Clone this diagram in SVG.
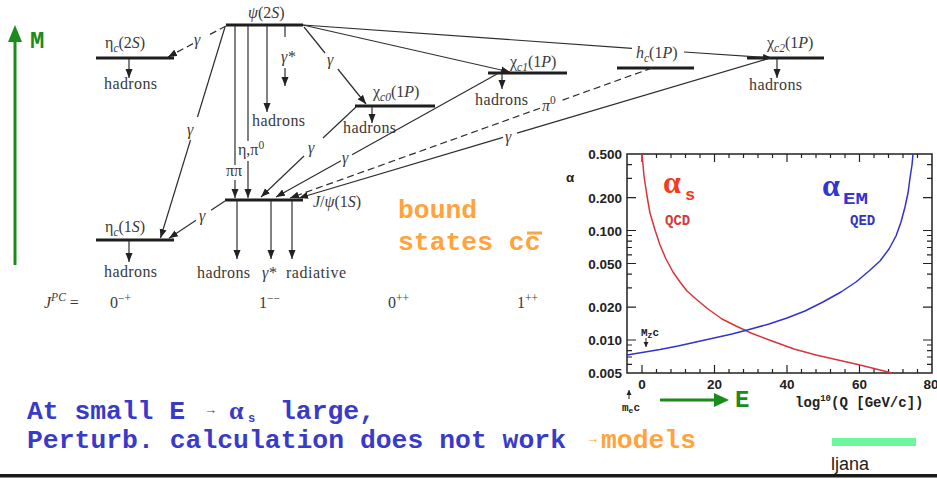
<svg xmlns="http://www.w3.org/2000/svg" width="937" height="479" viewBox="0 0 937 479">
<style>
.lvl{stroke:#1e1e1e;stroke-width:3;fill:none}
.ln{stroke:#2e2e2e;stroke-width:1.2;fill:none}
.arr{marker-end:url(#ah)}
.dash{stroke-dasharray:7 4}
.t{font-family:"Liberation Serif","Times New Roman",serif;font-size:16px;fill:#3a3a3a}
.it{font-style:italic}
.sb{font-size:11.5px}
.mono{font-family:"Courier New","Liberation Mono",monospace;font-weight:bold}
.ax{stroke:#222;stroke-width:1.5;fill:none}
.tk{stroke:#222;stroke-width:1.2;fill:none}
.tl{font-family:"Liberation Sans",Arial,sans-serif;font-weight:bold;font-size:13.5px;fill:#222}
.blue{fill:#3a3ac8}
.orange{fill:#ffa43c}
.green{fill:#1a8c1a}
</style>
<defs>
<marker id="ah" markerUnits="userSpaceOnUse" markerWidth="10" markerHeight="8" refX="9" refY="4" orient="auto"><path d="M0,0.5 L9,4 L0,7.5 z" fill="#222"/></marker>
<marker id="sa" markerUnits="userSpaceOnUse" markerWidth="6" markerHeight="6" refX="5" refY="3" orient="auto"><path d="M0,0.5 L5,3 L0,5.5 z" fill="#222"/></marker>
</defs>
<rect x="0" y="0" width="937" height="479" fill="#fff"/>

<!-- Mass axis -->
<g id="mass-axis">
<line x1="15" y1="265" x2="15" y2="40" stroke="#1a8c1a" stroke-width="3"/>
<polygon points="8,42 15,25 22,42" fill="#1a8c1a"/>
<text x="30" y="48" class="mono green" font-size="24">M</text>
</g>

<!-- Levels -->
<g id="psi2S">
<line class="lvl" x1="226" y1="25" x2="303" y2="25"/>
<text x="248" y="18" class="t"><tspan class="it">ψ</tspan>(2<tspan class="it">S</tspan>)</text>
</g>
<g id="etac2S">
<line class="lvl" x1="96" y1="58" x2="174" y2="58"/>
<text x="105" y="48" class="t">η<tspan class="sb it" dy="4">c</tspan><tspan dy="-4">(2</tspan><tspan class="it">S</tspan>)</text>
<line class="ln arr" x1="129" y1="59" x2="129" y2="78"/>
<text x="104" y="89" class="t" textLength="53">hadrons</text>
</g>
<g id="etac1S">
<line class="lvl" x1="96" y1="240" x2="174" y2="240"/>
<text x="105" y="232" class="t">η<tspan class="sb it" dy="4">c</tspan><tspan dy="-4">(1</tspan><tspan class="it">S</tspan>)</text>
<line class="ln arr" x1="129" y1="241" x2="129" y2="262"/>
<text x="104" y="277" class="t" textLength="53">hadrons</text>
</g>
<g id="jpsi">
<line class="lvl" x1="225" y1="200" x2="303" y2="200"/>
<text x="313" y="207" class="t"><tspan class="it">J</tspan>/<tspan class="it">ψ</tspan>(1<tspan class="it">S</tspan>)</text>
<line class="ln arr" x1="237" y1="201" x2="237" y2="259"/>
<line class="ln arr" x1="271" y1="201" x2="271" y2="259"/>
<line class="ln arr" x1="292" y1="201" x2="292" y2="259"/>
<text x="197" y="278" class="t" textLength="53">hadrons</text>
<text x="262" y="278" class="t it">γ*</text>
<text x="286" y="278" class="t" textLength="60">radiative</text>
</g>
<g id="chic0">
<line class="lvl" x1="355" y1="106" x2="435" y2="106"/>
<text x="373" y="97" class="t">χ<tspan class="sb it" dy="4">c0</tspan><tspan dy="-4">(1</tspan><tspan class="it">P</tspan>)</text>
<line class="ln arr" x1="372" y1="107" x2="372" y2="123"/>
<text x="343" y="133" class="t" textLength="53">hadrons</text>
</g>
<g id="chic1">
<line class="lvl" x1="488" y1="73" x2="567" y2="73"/>
<text x="510" y="67" class="t">χ<tspan class="sb it" dy="4">c1</tspan><tspan dy="-4">(1</tspan><tspan class="it">P</tspan>)</text>
<line class="ln arr" x1="502" y1="74" x2="502" y2="89"/>
<text x="475" y="105" class="t" textLength="53">hadrons</text>
</g>
<g id="hc">
<line class="lvl" x1="617" y1="68" x2="694" y2="68"/>
<text x="636" y="58" class="t"><tspan class="it">h</tspan><tspan class="sb it" dy="4">c</tspan><tspan dy="-4">(1</tspan><tspan class="it">P</tspan>)</text>
</g>
<g id="chic2">
<line class="lvl" x1="747" y1="58" x2="824" y2="58"/>
<text x="767" y="48" class="t">χ<tspan class="sb it" dy="4">c2</tspan><tspan dy="-4">(1</tspan><tspan class="it">P</tspan>)</text>
<line class="ln arr" x1="777" y1="59" x2="777" y2="78"/>
<text x="749" y="90" class="t" textLength="53">hadrons</text>
</g>

<!-- Connectors -->
<g id="connectors">
<line class="ln dash" x1="226" y1="26" x2="207" y2="36"/>
<line class="ln dash arr" x1="193" y1="43.6" x2="168" y2="57"/>
<text x="194" y="45" class="t it">γ</text>
<line class="ln" x1="225" y1="27" x2="197.5" y2="117"/>
<line class="ln arr" x1="190.5" y1="140" x2="160.5" y2="238"/>
<text x="187" y="135" class="t it">γ</text>
<line class="ln" x1="225" y1="201" x2="211" y2="210.3"/>
<line class="ln arr" x1="196" y1="220.3" x2="169" y2="238.3"/>
<text x="199" y="221" class="t it">γ</text>
<line class="ln" x1="235" y1="26" x2="235" y2="165"/>
<line class="ln arr" x1="235" y1="180" x2="235" y2="198"/>
<text x="226" y="176" class="t">ππ</text>
<line class="ln" x1="248" y1="26" x2="248" y2="141"/>
<line class="ln arr" x1="248" y1="161" x2="248" y2="198"/>
<text x="238" y="155" class="t">η,π<tspan class="sb" dy="-6">0</tspan></text>
<line class="ln arr" x1="267" y1="26" x2="267" y2="112"/>
<text x="252" y="126" class="t" textLength="53">hadrons</text>
<line class="ln" x1="285" y1="26" x2="285" y2="37"/>
<text x="281" y="62" class="t it">γ*</text>
<line class="ln arr" x1="285" y1="68" x2="285" y2="86"/>
<line class="ln" x1="304" y1="27" x2="325" y2="53"/>
<line class="ln arr" x1="337.8" y1="69" x2="366" y2="104"/>
<text x="327" y="65" class="t it">γ</text>
<line class="ln arr" x1="303" y1="25" x2="510" y2="72"/>
<line class="ln" x1="303" y1="25" x2="632" y2="48.3"/>
<line class="ln arr" x1="684" y1="52" x2="772" y2="58"/>
<line class="ln" x1="356" y1="107" x2="323" y2="138"/>
<line class="ln arr" x1="304" y1="156" x2="261" y2="197"/>
<text x="308" y="153" class="t it">γ</text>
<line class="ln" x1="497" y1="74" x2="352" y2="154.7"/>
<line class="ln arr" x1="341" y1="160.8" x2="276" y2="197"/>
<text x="342" y="163" class="t it">γ</text>
<line class="ln dash" x1="652" y1="68" x2="562" y2="100.3"/>
<line class="ln dash arr" x1="540" y1="108.2" x2="290" y2="198"/>
<text x="542" y="111" class="t it">π<tspan class="sb" font-style="normal" dy="-7">0</tspan></text>
<line class="ln" x1="770" y1="58" x2="517" y2="133.2"/>
<line class="ln arr" x1="503" y1="137.4" x2="299" y2="198"/>
<text x="505" y="142" class="t it">γ</text>
</g>

<!-- J^PC row -->
<g id="jpc-row">
<text x="44" y="308" class="t"><tspan class="it">J</tspan><tspan class="sb it" dy="-7">PC</tspan><tspan dy="7"> =</tspan></text>
<text x="110" y="308" class="t">0<tspan class="sb" dy="-6">−+</tspan></text>
<text x="259" y="308" class="t">1<tspan class="sb" dy="-6">−−</tspan></text>
<text x="388" y="308" class="t">0<tspan class="sb" dy="-6">++</tspan></text>
<text x="517" y="308" class="t">1<tspan class="sb" dy="-6">++</tspan></text>
</g>

<!-- bound states -->
<g id="bound-states">
<text x="398" y="218" class="mono orange" font-size="26.4">bound</text>
<text x="398" y="250" class="mono orange" font-size="26.4">states cc</text>
<rect x="527" y="231.5" width="15" height="3" fill="#ffa43c"/>
</g>

<!-- Running coupling plot -->
<g id="plot">
<rect class="ax" x="627" y="154" width="305" height="219"/>
<path class="tk" d="M642,373v-8M714.5,373v-8M787,373v-8M859.5,373v-8
M656.5,373v-4M671,373v-4M685.5,373v-4M700,373v-4M729,373v-4M743.5,373v-4M758,373v-4M772.5,373v-4M801.5,373v-4M816,373v-4M830.5,373v-4M845,373v-4M874,373v-4M888.5,373v-4M903,373v-4M917.5,373v-4
M642,154v8M714.5,154v8M787,154v8M859.5,154v8
M656.5,154v4M671,154v4M685.5,154v4M700,154v4M729,154v4M743.5,154v4M758,154v4M772.5,154v4M801.5,154v4M816,154v4M830.5,154v4M845,154v4M874,154v4M888.5,154v4M903,154v4M917.5,154v4
M627,197.6h9M627,230.5h9M627,263.5h9M627,307.1h9M627,340h9
M627,164.6h5M627,178.3h5M627,235.5h5M627,241.2h5M627,247.5h5M627,254.8h5M627,274.1h5M627,287.8h5M627,345h5M627,350.7h5M627,357h5M627,364.3h5
M932,197.6h-9M932,230.5h-9M932,263.5h-9M932,307.1h-9M932,340h-9
M932,164.6h-5M932,178.3h-5M932,235.5h-5M932,241.2h-5M932,247.5h-5M932,254.8h-5M932,274.1h-5M932,287.8h-5M932,345h-5M932,350.7h-5M932,357h-5M932,364.3h-5"/>
<text x="622" y="159" class="tl" text-anchor="end">0.500</text>
<text x="622" y="202.6" class="tl" text-anchor="end">0.200</text>
<text x="622" y="235.5" class="tl" text-anchor="end">0.100</text>
<text x="622" y="268.5" class="tl" text-anchor="end">0.050</text>
<text x="622" y="312" class="tl" text-anchor="end">0.020</text>
<text x="622" y="345" class="tl" text-anchor="end">0.010</text>
<text x="622" y="378" class="tl" text-anchor="end">0.005</text>
<text x="566" y="182" class="tl" font-size="15">α</text>
<text x="642" y="389" class="tl" text-anchor="middle">0</text>
<text x="714.5" y="389" class="tl" text-anchor="middle">20</text>
<text x="787" y="389" class="tl" text-anchor="middle">40</text>
<text x="859.5" y="389" class="tl" text-anchor="middle">60</text>
<text x="931" y="389" class="tl" text-anchor="middle">80</text>
<polyline fill="none" stroke="#d8343c" stroke-width="1.5" stroke-linejoin="round" points="642,154 644,176 647,196 650,213 655,230 660,245 666,259 673,272 680,282 687,291 696,299 708,309 722,319 736,326 751,333 772,341 794,349 816,355 838,360 860,365 880,370 892,373"/>
<polyline fill="none" stroke="#3333cc" stroke-width="1.5" stroke-linejoin="round" points="627,355 642,352.5 660,349.5 678,346 696,342 714,338 732,334 751,329 769,324 787,318 805,311 823,302 841,292 856,282 869,271 880,261 889,249 896,236 901,222 905,207 908,193 910,178 912,165 913,154"/>
<text x="663" y="193" font-family="Liberation Serif,serif" font-weight="bold" font-size="32" fill="#f23c1c">α<tspan x="685" y="200" font-family="Courier New,Liberation Mono,monospace" font-size="17">s</tspan></text>
<text x="665" y="225" class="mono" font-size="14" fill="#d33a3a">QCD</text>
<text x="822" y="196" font-family="Liberation Serif,serif" font-weight="bold" font-size="32" fill="#3434d0">α<tspan x="843" y="204" font-family="Courier New,Liberation Mono,monospace" font-size="17" textLength="25" lengthAdjust="spacingAndGlyphs">EM</tspan></text>
<text x="850" y="225" class="mono" font-size="14" fill="#3434c0">QED</text>
<text x="641" y="336" class="mono" font-size="11" fill="#222">M<tspan font-size="8" dy="2">Z</tspan><tspan dy="-2">c</tspan></text>
<line x1="646" y1="338" x2="646" y2="347" stroke="#222" stroke-width="1" marker-end="url(#sa)"/>
<line x1="629" y1="399" x2="629" y2="390" stroke="#222" stroke-width="1" marker-end="url(#sa)"/>
<text x="622" y="411" class="mono" font-size="11" fill="#222">m<tspan font-size="8" dy="2">e</tspan><tspan dy="-2">c</tspan></text>
<text x="795" y="407" class="mono" font-size="14" fill="#222">log<tspan font-size="9" dy="-6">10</tspan><tspan dy="6">(Q [GeV/c])</tspan></text>
</g>

<!-- Energy arrow -->
<g id="energy-axis">
<line x1="660" y1="400" x2="716" y2="400" stroke="#1a8c1a" stroke-width="3"/>
<polygon points="714,393 729,400 714,407" fill="#1a8c1a"/>
<text x="735" y="407" class="mono green" font-size="24">E</text>
</g>

<!-- Bottom text -->
<g id="caption">
<text x="27" y="419" class="mono blue" font-size="26.4"><tspan textLength="158">At small E</tspan><tspan x="204" y="414" font-family="Liberation Sans,sans-serif" font-weight="normal" font-size="13">→</tspan><tspan x="229" y="419" font-family="Liberation Serif,serif" font-size="26">α</tspan><tspan x="248" y="422" font-size="12">s</tspan><tspan x="280" y="419">large,</tspan></text>
<text x="27" y="448" class="mono blue" font-size="26.4" textLength="539">Perturb. calculation does not work</text>
<text x="586" y="443" class="orange" font-family="Liberation Sans,sans-serif" font-size="13">→</text>
<text x="601" y="448" class="mono orange" font-size="26.4">models</text>
</g>

<g id="footer">
<rect x="832" y="438" width="84" height="8" fill="#6cf79c"/>
<text x="831" y="470" font-family="Liberation Sans,Arial,sans-serif" font-size="18" fill="#222">ljana</text>
<rect x="0" y="474" width="937" height="3.5" fill="#1a1a1a"/>
</g>
</svg>
